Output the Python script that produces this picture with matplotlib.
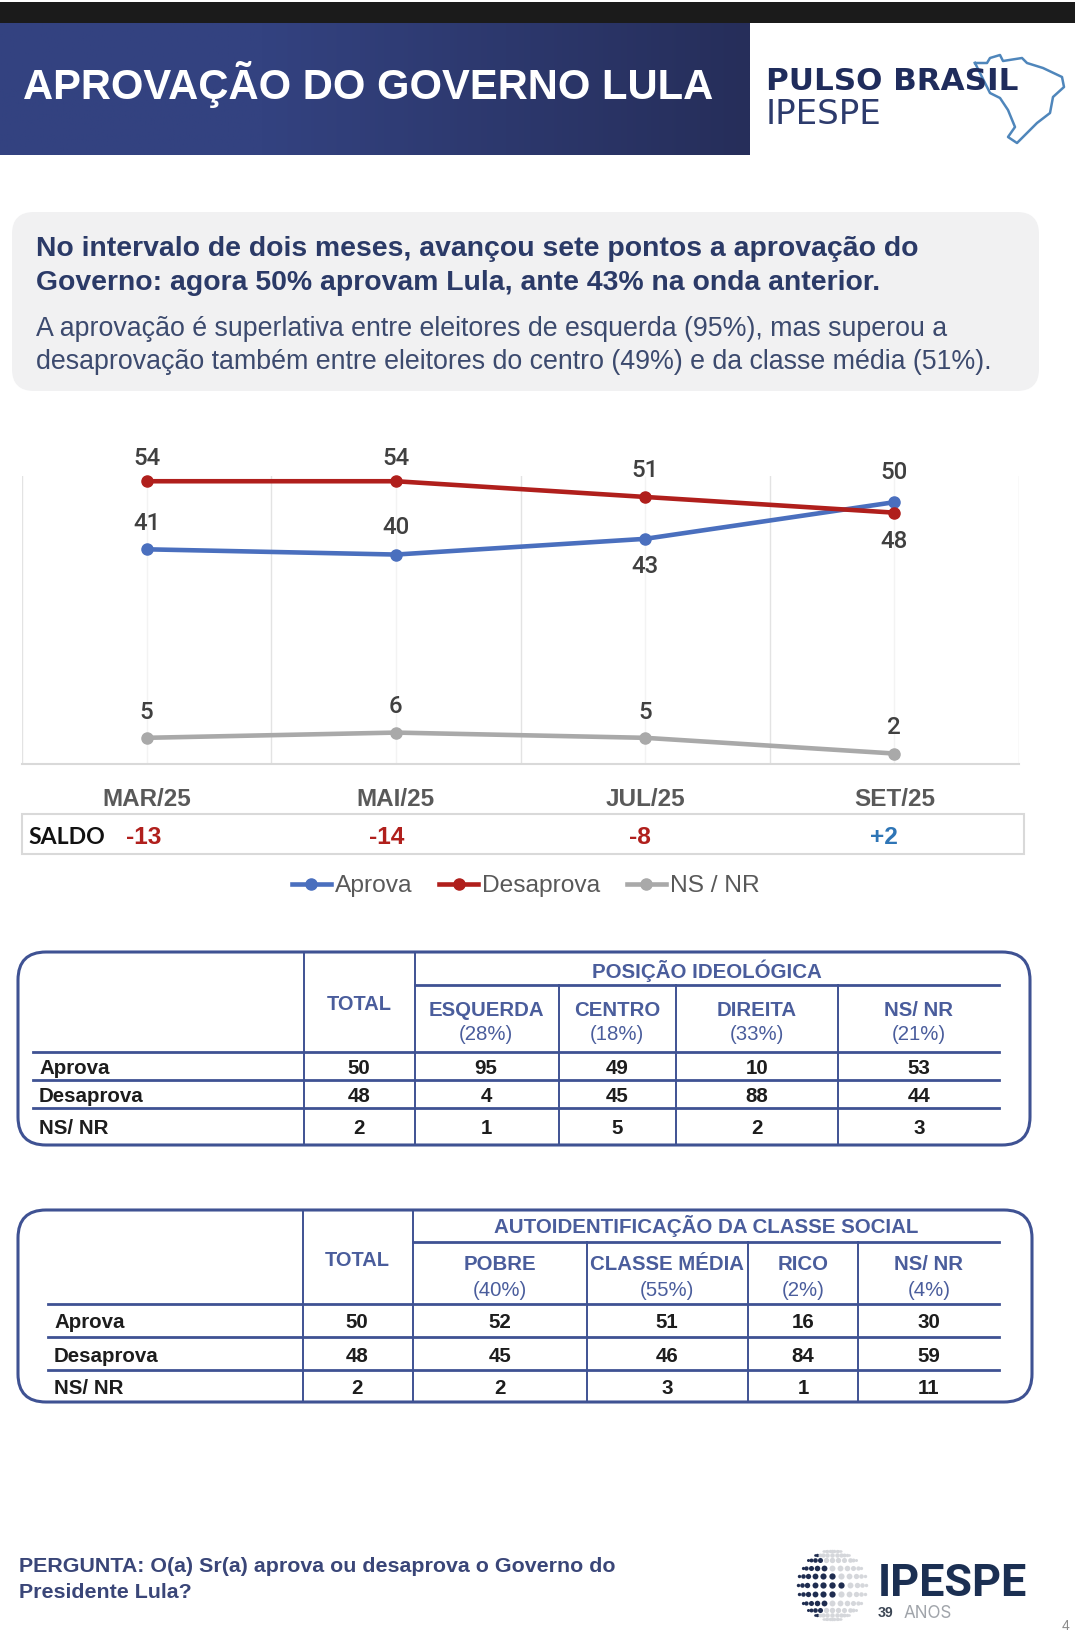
import numpy as np
import matplotlib
matplotlib.use('Agg')
import matplotlib.pyplot as plt
from matplotlib.patches import FancyBboxPatch, Rectangle

plt.rcParams['font.family'] = ['Liberation Sans', 'DejaVu Sans']

# chart data
waves = ['MAR/25', 'MAI/25', 'JUL/25', 'SET/25']
aprova = [41, 40, 43, 50]
desaprova = [54, 54, 51, 48]
nsnr = [5, 6, 5, 2]
saldo = ['-13', '-14', '-8', '+2']

# tables
rows = ['Aprova', 'Desaprova', 'NS/ NR']
total = [50, 48, 2]
ideo_cols = ['ESQUERDA\n(28%)', 'CENTRO\n(18%)', 'DIREITA\n(33%)', 'NS/ NR\n(21%)']
ideo_vals = [[95, 49, 10, 53], [4, 45, 88, 44], [1, 5, 2, 3]]
classe_cols = ['POBRE\n(40%)', 'CLASSE MÉDIA\n(55%)', 'RICO\n(2%)', 'NS/ NR\n(4%)']
classe_vals = [[52, 51, 16, 30], [45, 46, 84, 59], [2, 3, 1, 11]]

NAVY = '#2b3a67'
TBLUE = '#4a5d9c'
LINE = '#3f5293'
BLUE = '#4a6fbe'
RED = '#b01f1c'
GREY = '#a9a9a9'
LABEL = '#404040'

W, H = 1075, 1637
fig = plt.figure(figsize=(W / 100, H / 100), dpi=100)
bg = fig.add_axes([0, 0, 1, 1])
bg.set_xlim(0, W)
bg.set_ylim(H, 0)
bg.axis('off')


def px(size):
    # font size given in pixels
    return size * 0.72


# --- header ---
bg.add_patch(Rectangle((0, 2), W, 21, color='#1b1b1b', lw=0))
grad = np.linspace(0, 1, 256)[None, :, None]
c0 = np.array([0x33, 0x42, 0x80]) / 255
c1 = np.array([0x26, 0x2e, 0x5a]) / 255
stops = np.clip((grad - 0.35) / 0.65, 0, 1)
bg.imshow(c0 + (c1 - c0) * stops, extent=(0, 750, 155, 23), aspect='auto', zorder=1)
bg.set_xlim(0, W)
bg.set_ylim(H, 0)
bg.text(23, 85, 'APROVAÇÃO DO GOVERNO LULA', color='white', fontsize=px(41.8),
        fontweight='bold', va='center', ha='left', zorder=2)

# outline of the map in the logo, under the logo text
map_x = [975, 987, 990, 1000, 1003, 1022, 1027, 1043, 1062, 1064, 1053, 1050, 1037, 1023, 1017, 1008, 1015, 1008, 1000, 990, 980, 975]
map_y = [63, 63, 58, 55, 61, 58, 63, 68, 77, 87, 97, 113, 123, 137, 143, 137, 127, 110, 98, 93, 73, 63]
bg.plot(map_x, map_y, color='#4f86bb', lw=1.8, zorder=2)
bg.text(766, 82, 'PULSO BRASIL', color='#1f2c5c', fontsize=px(31), fontweight='bold', va='center',
        family='DejaVu Sans', zorder=3)
bg.text(766, 115, 'IPESPE', color='#2d3b6c', fontsize=px(34), va='center', family='DejaVu Sans', zorder=3)

# --- gray summary box ---
bg.add_patch(FancyBboxPatch((12, 212), 1027, 179, boxstyle='round,pad=0,rounding_size=22',
                            fc='#f1f1f2', ec='none'))
bg.text(36, 249, 'No intervalo de dois meses, avançou sete pontos a aprovação do',
        color=NAVY, fontsize=px(28.4), fontweight='bold', va='center')
bg.text(36, 283, 'Governo: agora 50% aprovam Lula, ante 43% na onda anterior.',
        color=NAVY, fontsize=px(28.4), fontweight='bold', va='center')
bg.text(36, 329, 'A aprovação é superlativa entre eleitores de esquerda (95%), mas superou a',
        color='#3c4a6e', fontsize=px(26.8), va='center')
bg.text(36, 362, 'desaprovação também entre eleitores do centro (49%) e da classe média (51%).',
        color='#3c4a6e', fontsize=px(26.8), va='center')

# --- line chart ---
ax = fig.add_axes([22 / W, 1 - 764 / H, (1019 - 22) / W, (764 - 476) / H])
ax.patch.set_alpha(0)
x = np.arange(len(waves))
ax.set_xlim(-0.5, 3.5)
ax.set_ylim(0, 55)
for sp in ['top', 'right', 'left']:
    ax.spines[sp].set_visible(False)
ax.spines['bottom'].set_color('#d9d9d9')
ax.spines['bottom'].set_linewidth(1.5)
ax.set_yticks([])
ax.set_xticks(np.arange(-0.5, 4, 1))
ax.set_xticklabels([])
ax.tick_params(length=0)
ax.grid(axis='x', color='#e3e3e3', lw=1)
ax.vlines(x, 0, 55, color='#f3f3f3', lw=1, zorder=0)

series = [('Aprova', aprova, BLUE), ('Desaprova', desaprova, RED), ('NS / NR', nsnr, GREY)]
for name, vals, col in series:
    ax.plot(x, vals, color=col, lw=3.3, marker='o', ms=8, label=name, clip_on=False, zorder=3)

# label offsets in px: above the point, except where it would hit another line
apr_off = [26, 27, -28, 30]
des_off = [23, 23, 26, -29]
ns_off = [25, 26, 25, 26]
for vals, offs in [(aprova, apr_off), (desaprova, des_off), (nsnr, ns_off)]:
    for i, v in enumerate(vals):
        ax.annotate(str(v), (x[i], v), xytext=(0, offs[i] * 0.72), textcoords='offset points',
                    ha='center', va='center', fontsize=px(24), color=LABEL, annotation_clip=False,
                    family='Roboto', fontweight='medium')

for i, lab in enumerate(waves):
    ax.annotate(lab, (x[i], 0), xytext=(0, -35 * 0.72), textcoords='offset points',
                ha='center', va='center', fontsize=px(24.2), fontweight='bold', color='#595959',
                annotation_clip=False)

# saldo row
bg.add_patch(Rectangle((22, 814), 1002, 40, fc='white', ec='#d9d9d9', lw=1.5))
bg.text(28, 837, 'SALDO', color='#111111', fontsize=px(23), fontweight='bold', va='center', family='Lato')
saldo_x = [144, 387, 640, 884]
for sx, s in zip(saldo_x, saldo):
    bg.text(sx, 837, s, color='#2e75b6' if s.startswith('+') else RED, fontsize=px(24.5),
            fontweight='bold', ha='center', va='center')

leg = ax.legend(loc='center', bbox_to_anchor=(0.505, (764 - 886) / (764 - 476)), ncol=3, frameon=False,
                fontsize=px(24.5), labelcolor='#595959', handlelength=1.6, handletextpad=0.15,
                columnspacing=1.1)


def draw_table(box, head, head_y, rule_ys, cols_x, vrule_x, left, title, cols, vals, row_y, col_y, total_y):
    bx0, by0, bx1, by1 = box
    bg.add_patch(FancyBboxPatch((bx0, by0), bx1 - bx0, by1 - by0, boxstyle='round,pad=0,rounding_size=28',
                                fc='white', ec=LINE, lw=2.2, zorder=2))
    for vx in vrule_x[:2]:
        bg.plot([vx, vx], [by0, by1], color=LINE, lw=1.4, zorder=3)
    for vx in vrule_x[2:]:
        bg.plot([vx, vx], [head, by1], color=LINE, lw=1.4, zorder=3)
    bg.plot([vrule_x[1], 999], [head, head], color=LINE, lw=2, zorder=3)
    for ry in rule_ys:
        bg.plot([left, 999], [ry, ry], color=LINE, lw=2, zorder=3)
    bg.text((vrule_x[1] + 1000) / 2 - 0.5, head_y, title, color=TBLUE, fontsize=px(20.5), fontweight='bold',
            ha='center', va='center', zorder=4)
    bg.text(cols_x[0], total_y, 'TOTAL', color=TBLUE, fontsize=px(20), fontweight='bold',
            ha='center', va='center', zorder=4)
    for cx, c in zip(cols_x[1:], cols):
        top, bottom = c.split('\n')
        bg.text(cx, col_y, top, color=TBLUE, fontsize=px(20.4), fontweight='bold',
                ha='center', va='center', zorder=4)
        bg.text(cx, col_y + 25, bottom, color=TBLUE, fontsize=px(20.4), ha='center', va='center', zorder=4)
    for ry, name, t, line in zip(row_y, rows, total, vals):
        bg.text(left + 6, ry, name, color='#1d1d1d', fontsize=px(20.5), fontweight='bold', va='center', zorder=4)
        for cx, v in zip(cols_x, [t] + line):
            bg.text(cx, ry, str(v), color='#1d1d1d', fontsize=px(20.5), fontweight='bold',
                    ha='center', va='center', zorder=4)


draw_table((18, 952, 1030, 1145), 985, 971, [1052, 1080, 1108],
           [359, 486, 617, 757, 919], [304, 415, 559, 676, 838], 33,
           'POSIÇÃO IDEOLÓGICA', ideo_cols, ideo_vals,
           [1069, 1097, 1129], 1010, 1005)
draw_table((18, 1210, 1032, 1402), 1242, 1226, [1304, 1337, 1370],
           [357, 500, 667, 803, 929], [303, 413, 587, 748, 858], 48,
           'AUTOIDENTIFICAÇÃO DA CLASSE SOCIAL', classe_cols, classe_vals,
           [1323, 1356, 1389], 1265, 1261)

# --- footer ---
bg.text(19, 1567, 'PERGUNTA: O(a) Sr(a) aprova ou desaprova o Governo do', color='#3a4678',
        fontsize=px(21.4), fontweight='bold', va='center')
bg.text(19, 1592, 'Presidente Lula?', color='#3a4678', fontsize=px(21.4), fontweight='bold', va='center')

# dotted globe of the logo
cx, cy, rad = 832, 1585, 35
for lat_deg in np.arange(-75, 76, 15):
    for lon_deg in np.arange(-75, 76, 15):
        lat, lon = np.radians(lat_deg), np.radians(lon_deg)
        dx = cx + rad * np.cos(lat) * np.sin(lon)
        dy = cy + rad * np.sin(lat)
        dark = lon_deg + 1.2 * abs(lat_deg) < 25 and abs(lat_deg) < 65
        size = 20 * np.cos(lat) * np.cos(lon) + 1
        bg.scatter(dx, dy, s=size, color='#1f2d50' if dark else '#d5d7db', lw=0, zorder=3)
bg.text(878, 1584, 'IPESPE', color='#1b2f52', fontsize=px(45), fontweight='bold', va='center', family='Roboto')
bg.text(878, 1613, '39', color='#3c4654', fontsize=px(14), fontweight='bold', va='center')
bg.text(904, 1613, 'ANOS', color='#a0a4aa', fontsize=px(17), va='center', family='Inter')
bg.text(1062, 1626, '4', color='#8a8a8a', fontsize=px(14), va='center')

fig.savefig('out.png', dpi=100, facecolor='white')
